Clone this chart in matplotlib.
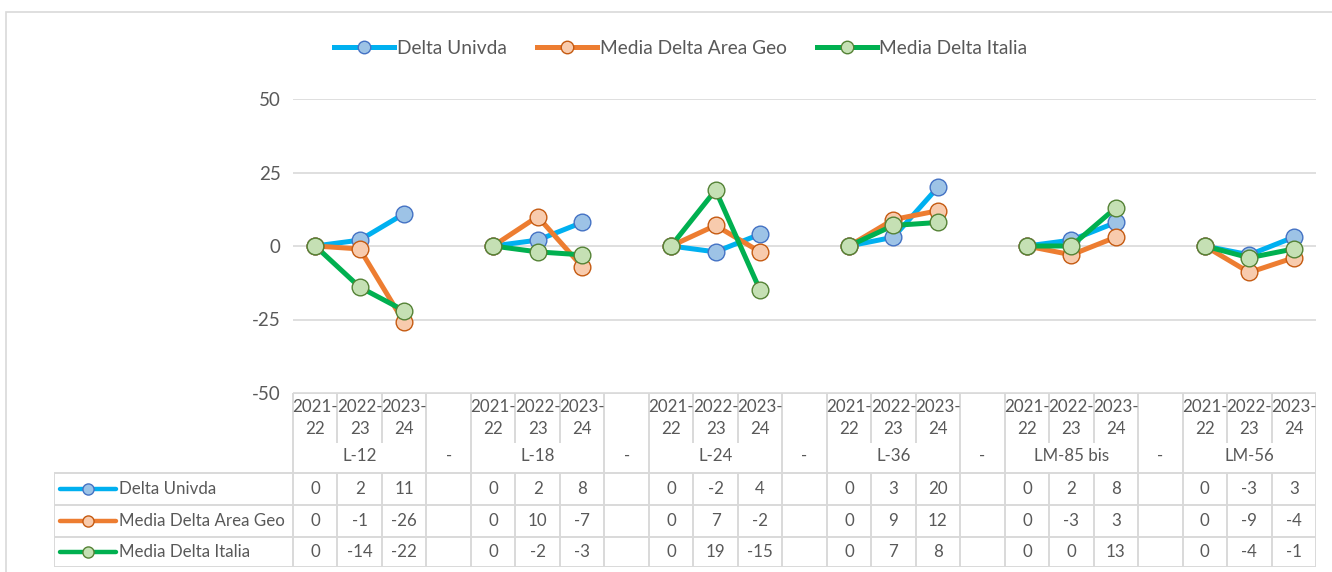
import numpy as np
import matplotlib
matplotlib.use("Agg")
import matplotlib.pyplot as plt
from matplotlib.lines import Line2D
from matplotlib.patches import Rectangle

plt.rcParams['font.family'] = ['Lato', 'DejaVu Sans']
plt.rcParams['axes.unicode_minus'] = False

groups = ["L-12", "L-18", "L-24", "L-36", "LM-85 bis", "LM-56"]
years = ["2021-\n22", "2022-\n23", "2023-\n24"]
series_names = ["Delta Univda", "Media Delta Area Geo", "Media Delta Italia"]
delta_univda = [0, 2, 11, 0, 2, 8, 0, -2, 4, 0, 3, 20, 0, 2, 8, 0, -3, 3]
delta_geo = [0, -1, -26, 0, 10, -7, 0, 7, -2, 0, 9, 12, 0, -3, 3, 0, -9, -4]
delta_italia = [0, -14, -22, 0, -2, -3, 0, 19, -15, 0, 7, 8, 0, 0, 13, 0, -4, -1]
yticks = [-50, -25, 0, 25, 50]

line_colors = ["#00b0f0", "#ed7d31", "#00b050"]
face_colors = ["#9dc3e6", "#f8cbad", "#c5e0b4"]
edge_colors = ["#4472c4", "#c55a11", "#548235"]
grid_c = "#d9d9d9"
text_c = "#595959"
tfs = 12.2  # table font size

W, H = 1332, 572
fig = plt.figure(figsize=(W / 100, H / 100), dpi=100)

# 3 years per group plus a blank "-" column between groups
n_cols = len(groups) * 4 - 1


def spread(vals):
    out = np.full(n_cols, np.nan)
    for g in range(len(groups)):
        out[g * 4:g * 4 + 3] = vals[g * 3:g * 3 + 3]
    return out


all_series = [delta_univda, delta_geo, delta_italia]
x = np.arange(n_cols) + 0.5

# --- plot area
ax = fig.add_axes([293 / W, 1 - 393 / H, (1316 - 293) / W, (393 - 99) / H])
ax.set_xlim(0, n_cols)
ax.set_ylim(-50, 50)
ax.set_yticks(yticks)
ax.set_xticks([])
for s in ax.spines.values():
    s.set_visible(False)
ax.tick_params(axis='y', length=0, pad=9, labelsize=13.5, labelcolor=text_c)
for t in yticks:
    ax.axhline(t, color=grid_c, lw=1.2, zorder=0)

for vals, lc, fc, ec in zip(all_series, line_colors, face_colors, edge_colors):
    ax.plot(x, spread(vals), color=lc, lw=3.6, marker='o', ms=12,
            mfc=fc, mec=ec, mew=1.0, clip_on=False)

# --- legend on top
handles = [Line2D([], [], color=lc, lw=3.6, marker='o', ms=9, mfc=fc, mec=ec, mew=1.0)
           for lc, fc, ec in zip(line_colors, face_colors, edge_colors)]
fig.legend(handles, series_names, loc='center', bbox_to_anchor=(681 / W, 1 - 48 / H),
           ncol=3, frameon=False, fontsize=13.8, handlelength=3.1, handletextpad=0.15,
           columnspacing=1.6, labelcolor=text_c)

# --- data table below the plot
tax = fig.add_axes([54 / W, 1 - 567 / H, (1316 - 54) / W, (567 - 393) / H])
pxpc = (1316 - 293) / n_cols
lab_w = (293 - 54) / pxpc
tax.set_xlim(-lab_w, n_cols)
tax.set_ylim(174, 0)
tax.axis('off')

rows = [0, 50, 80, 112, 144, 174]
lk = dict(color=grid_c, lw=1.4, solid_capstyle='butt')
tax.plot([0, n_cols], [0, 0], **lk)
for yy in rows[2:]:
    tax.plot([-lab_w, n_cols], [yy, yy], **lk)
tax.plot([-lab_w, -lab_w], [80, 174], **lk)
for g in range(len(groups)):
    left, right = g * 4, g * 4 + 3
    for xx in (left, right):
        tax.plot([xx, xx], [0, 174], **lk)
    for xx in (left + 1, left + 2):
        tax.plot([xx, xx], [0, 50], **lk)
        tax.plot([xx, xx], [80, 174], **lk)
    for k, yl in enumerate(years):
        tax.text(left + k + 0.5, 25, yl, ha='center', va='center', fontsize=tfs,
                 color=text_c, linespacing=1.4)
    tax.text(left + 1.5, 63, groups[g], ha='center', va='center', fontsize=tfs, color=text_c)
    if g < len(groups) - 1:
        tax.text(right + 0.5, 63, "-", ha='center', va='center', fontsize=tfs, color=text_c)

row_mid = [(rows[i] + rows[i + 1]) / 2 for i in range(2, 5)]
for r, (name, vals, lc, fc, ec) in enumerate(zip(series_names, all_series,
                                                  line_colors, face_colors, edge_colors)):
    ym = row_mid[r]
    x0 = -lab_w + (60 - 54) / pxpc
    x1 = -lab_w + (116 - 54) / pxpc
    tax.plot([x0, x1], [ym, ym], color=lc, lw=3.2, solid_capstyle='round')
    tax.plot([(x0 + x1) / 2], [ym], marker='o', ms=8, mfc=fc, mec=ec, mew=1.0)
    tax.text(-lab_w + (119 - 54) / pxpc, ym, name, ha='left', va='center',
             fontsize=tfs, color=text_c)
    for g in range(len(groups)):
        for k in range(3):
            tax.text(g * 4 + k + 0.5, ym, str(vals[g * 3 + k]), ha='center', va='center',
                     fontsize=tfs, color=text_c)

# chart border
fig.patches.append(Rectangle((6 / W, -0.1), 1.2, 1 - 12 / H + 0.1, fill=False,
                             ec=grid_c, lw=1.2, transform=fig.transFigure))

fig.savefig("out.png", dpi=100)
